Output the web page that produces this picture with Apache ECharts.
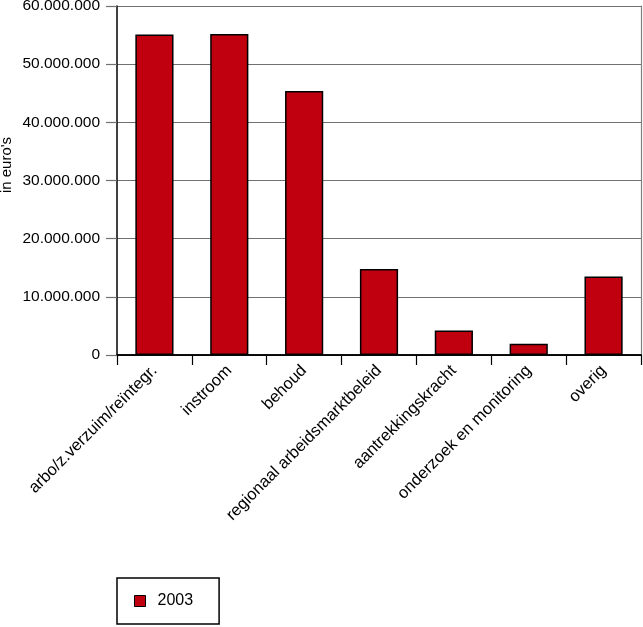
<!DOCTYPE html>
<html>
<head>
<meta charset="utf-8">
<script src="https://cdn.jsdelivr.net/npm/echarts@6/dist/echarts.min.js"></script>
<style>html,body{margin:0;padding:0;background:#fff}#c{width:643px;height:627px}</style>
</head>
<body>
<div id="c"></div>
<script>
var categories = ["arbo/z.verzuim/reïntegr.", "instroom", "behoud", "regionaal arbeidsmarktbeleid", "aantrekkingskracht", "onderzoek en monitoring", "overig"];
var values2003 = [55100000, 55200000, 45400000, 14800000, 4200000, 1950000, 13500000];
var seriesName = "2003";
var yAxisName = "in euro's";
var yMin = 0, yMax = 60000000, yStep = 10000000;

function fmt(v) {
  return String(Math.round(v)).replace(/\B(?=(\d{3})+(?!\d))/g, ".");
}

var FONT = "Liberation Sans";
var chart = echarts.init(document.getElementById('c'), null, {renderer: 'canvas'});
chart.setOption({
  animation: false,
  textStyle: {fontFamily: FONT},
  grid: {left: 117, right: 2, top: 6, bottom: 272, containLabel: false, outerBoundsMode: 'none'},
  legend: {
    left: 117, top: 578,
    data: [seriesName],
    icon: 'rect', itemWidth: 11, itemHeight: 11, itemGap: 10,
    padding: [15, 26, 15, 17],
    borderColor: '#000', borderWidth: 1.5,
    textStyle: {fontFamily: FONT, fontSize: 16, color: '#000', padding: [0, 0, 0, 7]},
    itemStyle: {borderColor: '#000', borderWidth: 1}
  },
  graphic: [{
    type: 'text', x: 7, y: 165, rotation: Math.PI / 2,
    style: {text: yAxisName, fontFamily: FONT, fontSize: 15, fill: '#000', align: 'center', verticalAlign: 'middle'}
  }],
  xAxis: [{
    type: 'category', data: categories, position: 'bottom',
    axisLine: {lineStyle: {color: '#000', width: 1.5}},
    axisTick: {show: true, length: 10, lineStyle: {color: '#000', width: 1.2}},
    axisLabel: {rotate: 45, margin: 13, fontSize: 16.5, color: '#000', fontFamily: FONT, interval: 0}
  }, {
    type: 'category', data: categories, position: 'top',
    axisLine: {lineStyle: {color: '#000', width: 1.5}},
    axisTick: {show: false}, axisLabel: {show: false}
  }],
  yAxis: [{
    type: 'value', min: yMin, max: yMax, interval: yStep,
    axisLine: {show: true, lineStyle: {color: '#000', width: 1.5}},
    axisTick: {show: true, length: 11, lineStyle: {color: '#707070', width: 1.2}},
    axisLabel: {margin: 17, fontSize: 15.5, color: '#000', fontFamily: FONT, formatter: fmt},
    splitLine: {show: true, lineStyle: {color: '#707070', width: 1.2}}
  }, {
    type: 'value', min: yMin, max: yMax, interval: yStep, position: 'right',
    axisLine: {show: true, lineStyle: {color: '#808080', width: 1.2}},
    axisTick: {show: false}, axisLabel: {show: false}, splitLine: {show: false}
  }],
  series: [{
    name: seriesName, type: 'bar', data: values2003,
    barCategoryGap: '49%',
    itemStyle: {color: '#c0000f', borderColor: '#000', borderWidth: 1.5}
  }]
});
</script>
</body>
</html>
